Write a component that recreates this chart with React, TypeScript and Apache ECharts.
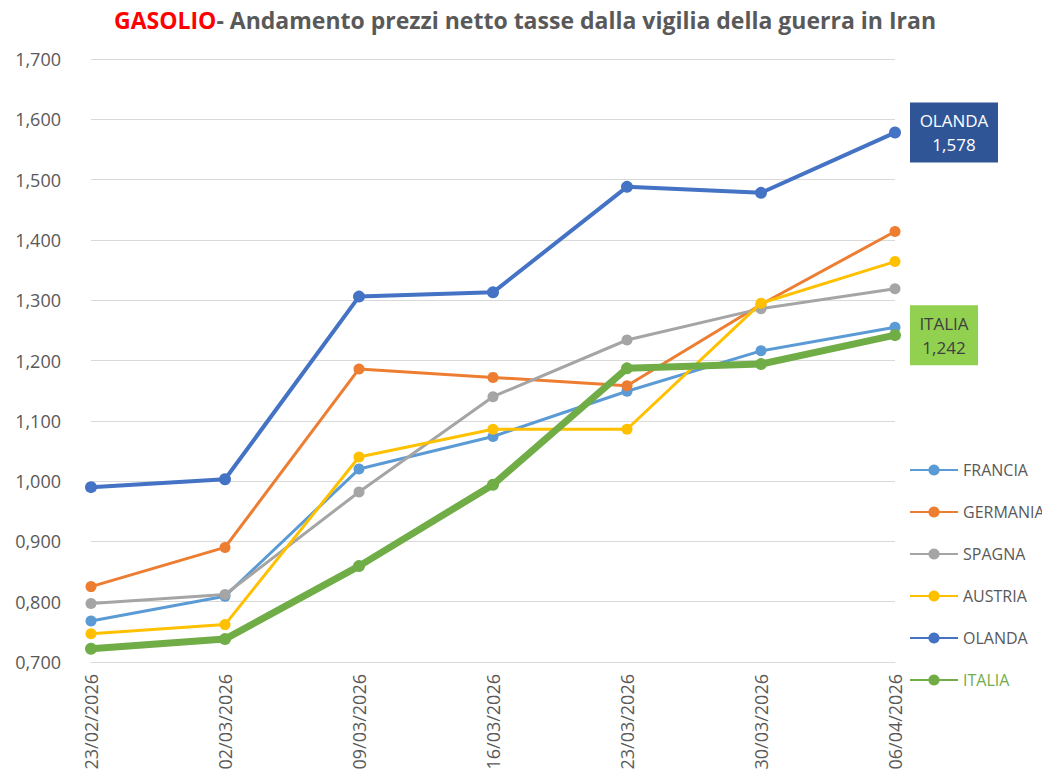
import React, { useEffect, useRef } from "react";
import * as echarts from "echarts";

const dates = ["23/02/2026", "02/03/2026", "09/03/2026", "16/03/2026", "23/03/2026", "30/03/2026", "06/04/2026"];
const francia = [0.768, 0.809, 1.020, 1.074, 1.149, 1.216, 1.255];
const germania = [0.825, 0.890, 1.186, 1.172, 1.158, 1.293, 1.414];
const spagna = [0.797, 0.812, 0.982, 1.140, 1.234, 1.286, 1.319];
const austria = [0.747, 0.762, 1.040, 1.086, 1.086, 1.295, 1.364];
const olanda = [0.990, 1.003, 1.306, 1.313, 1.488, 1.478, 1.578];
const italia = [0.722, 0.738, 0.859, 0.994, 1.187, 1.194, 1.242];

const fmt = (v: number) => v.toFixed(3).replace(".", ",");

export default function App() {
  const ref = useRef<HTMLDivElement>(null);
  useEffect(() => {
    const chart = echarts.init(ref.current!, null, { renderer: "svg" });
    const font = "Open Sans";
    const mk = (name: string, data: number[], color: string, width: number, size: number, z: number) => ({
      name,
      type: "line",
      data,
      z,
      symbol: "circle",
      symbolSize: size,
      itemStyle: { color },
      lineStyle: { color, width },
      emphasis: { disabled: true },
    });
    const lastLabel = (name: string, bg: string, fg: string, w: number) => ({
      show: true,
      position: "right",
      distance: 9,
      formatter: (p: any) => "{a|" + name + "}\n{a|" + fmt(p.value) + "}",
      backgroundColor: bg,
      padding: [6, 8, 6, 8],
      rich: {
        a: { width: w, align: "center", color: fg, fontFamily: font, fontSize: 17, lineHeight: 24 },
      },
    });
    const withLast = (data: number[], label: any) =>
      data.map((v, i) => (i === data.length - 1 ? { value: v, label } : v));

    const series: any[] = [
      mk("FRANCIA", francia, "#5B9BD5", 3, 11, 2),
      mk("GERMANIA", germania, "#ED7D31", 3, 11, 2),
      mk("SPAGNA", spagna, "#A5A5A5", 3, 11, 2),
      mk("AUSTRIA", austria, "#FFC000", 3, 11, 3),
      { ...mk("OLANDA", olanda, "#4472C4", 4, 12, 5), data: withLast(olanda, lastLabel("OLANDA", "#2F5597", "#FFFFFF", 72)) },
      { ...mk("ITALIA", italia, "#70AD47", 7, 12, 6), data: withLast(italia, lastLabel("ITALIA", "#92D050", "#404040", 52)) },
    ];
    chart.setOption({
      animation: false,
      title: {
        text: "{r|GASOLIO}{g|- Andamento prezzi netto tasse dalla vigilia della guerra in Iran}",
        left: "center",
        top: 3,
        textStyle: {
          rich: {
            r: { color: "#FF0000", fontSize: 23, fontWeight: "bold", fontFamily: font },
            g: { color: "#595959", fontSize: 23, fontWeight: "bold", fontFamily: font },
          },
        },
      },
      grid: { left: 91, right: 155, top: 59, bottom: 115 },
      legend: {
        orient: "vertical",
        left: 904,
        top: 454,
        itemGap: 20,
        itemWidth: 48,
        itemHeight: 14,
        textStyle: { color: "#595959", fontSize: 16, fontFamily: font, lineHeight: 22 },
        data: [
          { name: "FRANCIA" },
          { name: "GERMANIA" },
          { name: "SPAGNA" },
          { name: "AUSTRIA" },
          { name: "OLANDA" },
          { name: "ITALIA", textStyle: { color: "#70AD47" } },
        ],
      },
      xAxis: {
        type: "category",
        data: dates,
        boundaryGap: false,
        axisLine: { lineStyle: { color: "#D9D9D9" } },
        axisTick: { show: false },
        axisLabel: { rotate: 90, color: "#595959", fontSize: 18, fontFamily: font, margin: 12, interval: 0 },
      },
      yAxis: {
        type: "value",
        min: 0.7,
        max: 1.7,
        interval: 0.1,
        axisLine: { show: false },
        axisTick: { show: false },
        splitLine: { lineStyle: { color: "#D9D9D9", width: 1 } },
        axisLabel: { color: "#595959", fontSize: 18, fontFamily: font, margin: 30, formatter: (v: number) => fmt(v) },
      },
      series,
    });
    return () => chart.dispose();
  }, []);
  return <div ref={ref} style={{ width: 1050, height: 777, margin: -8 }} />;
}
